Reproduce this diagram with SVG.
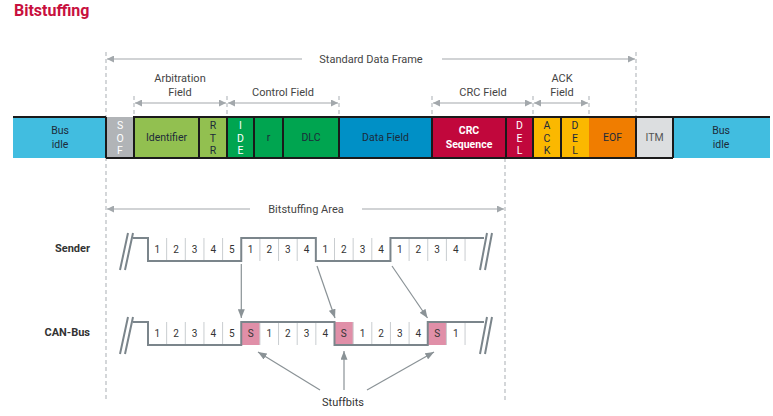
<svg xmlns="http://www.w3.org/2000/svg" width="773" height="416" viewBox="0 0 773 416">
<style>
text{font-family:Roboto,"Liberation Sans",sans-serif;}
.lbl{font-size:11px;fill:#444;text-anchor:middle;}
.bt{font-size:10.5px;text-anchor:middle;fill:#1d2b3a;}
.bw{font-size:10.5px;text-anchor:middle;fill:#fff;}
.num{font-size:10px;text-anchor:middle;fill:#333;}
.row{font-size:11px;font-weight:bold;fill:#333;text-anchor:end;}
.dash{stroke:#b8bcc0;stroke-width:1.2;stroke-dasharray:4 3;fill:none;}
.dim{stroke:#a3a8ac;stroke-width:1.2;fill:none;}
.sig{stroke:#7b858b;stroke-width:2;fill:none;}
.div{stroke:#c9cdd0;stroke-width:1;}
.con{stroke:#8a9296;stroke-width:1.2;fill:none;}
.blk{stroke:#1a1a1a;stroke-width:2;fill:none;}
.stuff{fill:#e08fa8;}
</style>
<defs>
<marker id="dh" viewBox="0 0 8 8" refX="8" refY="4" markerWidth="7" markerHeight="7" markerUnits="userSpaceOnUse" orient="auto-start-reverse"><path d="M0,0 L8,4 L0,8 Z" fill="#a3a8ac"/></marker>
<marker id="ah" viewBox="0 0 10 8" refX="10" refY="4" markerWidth="9" markerHeight="7" markerUnits="userSpaceOnUse" orient="auto"><path d="M0,0 L10,4 L0,8 Z" fill="#8a9296"/></marker>
</defs>

<text x="14" y="16" style="font-size:16px;font-weight:bold;fill:#c8103e">Bitstuffing</text>

<!-- dashed guide lines -->
<g id="guides">
<line class="dash" x1="106" y1="52" x2="106" y2="400"/>
<line class="dash" x1="636" y1="52" x2="636" y2="117"/>
<line class="dash" x1="134" y1="96" x2="134" y2="117"/>
<line class="dash" x1="227" y1="96" x2="227" y2="117"/>
<line class="dash" x1="339" y1="96" x2="339" y2="117"/>
<line class="dash" x1="432" y1="96" x2="432" y2="117"/>
<line class="dash" x1="533" y1="96" x2="533" y2="117"/>
<line class="dash" x1="589" y1="96" x2="589" y2="117"/>
<line class="dash" x1="505" y1="158" x2="505" y2="400"/>
</g>

<!-- dimension lines -->
<g id="dimensions">
<line class="dim" x1="302" y1="59" x2="107" y2="59" marker-end="url(#dh)"/>
<line class="dim" x1="442" y1="59" x2="635" y2="59" marker-end="url(#dh)"/>
<text class="lbl" x="371" y="63">Standard Data Frame</text>
<line class="dim" x1="135" y1="103" x2="226" y2="103" marker-start="url(#dh)" marker-end="url(#dh)"/>
<text class="lbl" x="180" y="82">Arbitration</text>
<text class="lbl" x="180" y="96">Field</text>
<line class="dim" x1="228" y1="103" x2="338" y2="103" marker-start="url(#dh)" marker-end="url(#dh)"/>
<text class="lbl" x="283" y="96">Control Field</text>
<line class="dim" x1="433" y1="103" x2="532" y2="103" marker-start="url(#dh)" marker-end="url(#dh)"/>
<text class="lbl" x="483" y="96">CRC Field</text>
<line class="dim" x1="534" y1="103" x2="588" y2="103" marker-start="url(#dh)" marker-end="url(#dh)"/>
<text class="lbl" x="562" y="82">ACK</text>
<text class="lbl" x="562" y="96">Field</text>
<line class="dim" x1="250" y1="209" x2="107" y2="209" marker-end="url(#dh)"/>
<line class="dim" x1="362" y1="209" x2="504" y2="209" marker-end="url(#dh)"/>
<text class="lbl" x="306" y="213">Bitstuffing Area</text>
</g>

<!-- frame fields -->
<g id="bus-idle-left"><rect x="13" y="117" width="93" height="41" fill="#41bde0"/><text class="bt" x="60" y="134">Bus</text><text class="bt" x="60" y="148">idle</text></g>
<g id="sof"><rect x="106" y="117" width="28" height="41" fill="#b1b4b7"/><text class="bw" x="120" y="129">S</text><text class="bw" x="120" y="142">O</text><text class="bw" x="120" y="154">F</text></g>
<g id="identifier"><rect x="134" y="117" width="65" height="41" fill="#92c050"/><text class="bt" x="166.5" y="141">Identifier</text></g>
<g id="rtr"><rect x="199" y="117" width="28" height="41" fill="#92c050"/><text class="bt" x="213" y="129">R</text><text class="bt" x="213" y="142">T</text><text class="bt" x="213" y="154">R</text></g>
<g id="ide"><rect x="227" y="117" width="27" height="41" fill="#00a550"/><text class="bw" x="240.5" y="129">I</text><text class="bw" x="240.5" y="142">D</text><text class="bw" x="240.5" y="154">E</text></g>
<g id="r"><rect x="254" y="117" width="29" height="41" fill="#00a550"/><text class="bt" x="268.5" y="141">r</text></g>
<g id="dlc"><rect x="283" y="117" width="56" height="41" fill="#00a550"/><text class="bt" x="311" y="141">DLC</text></g>
<g id="data-field"><rect x="339" y="117" width="93" height="41" fill="#0090c6"/><text class="bt" x="385.5" y="141">Data Field</text></g>
<g id="crc-sequence"><rect x="432" y="117" width="74" height="41" fill="#c1073c"/><text class="bw" x="469" y="134" font-weight="bold">CRC</text><text class="bw" x="469" y="148" font-weight="bold">Sequence</text></g>
<g id="crc-del"><rect x="506" y="117" width="27" height="41" fill="#c1073c"/><text class="bw" x="519.5" y="129">D</text><text class="bw" x="519.5" y="142">E</text><text class="bw" x="519.5" y="154">L</text></g>
<g id="ack"><rect x="533" y="117" width="28" height="41" fill="#fbb800"/><text class="bt" x="547" y="129">A</text><text class="bt" x="547" y="142">C</text><text class="bt" x="547" y="154">K</text></g>
<g id="ack-del"><rect x="561" y="117" width="28" height="41" fill="#fbb800"/><text class="bt" x="575" y="129">D</text><text class="bt" x="575" y="142">E</text><text class="bt" x="575" y="154">L</text></g>
<g id="eof"><rect x="589" y="117" width="47" height="41" fill="#f07d00"/><text class="bt" x="612.5" y="141">EOF</text></g>
<g id="itm"><rect x="636" y="117" width="37" height="41" fill="#dcdee0"/><text class="bt" x="654.5" y="141" style="fill:#555">ITM</text></g>
<g id="bus-idle-right"><rect x="673" y="117" width="97" height="41" fill="#41bde0"/><text class="bt" x="721" y="134">Bus</text><text class="bt" x="721" y="148">idle</text></g>

<!-- black frame lines -->
<g id="frame-lines">
<line class="blk" x1="13" y1="117" x2="106" y2="117"/>
<line class="blk" x1="134" y1="117" x2="770" y2="117"/>
<line class="blk" x1="106" y1="158" x2="673" y2="158"/>
<line class="blk" x1="106" y1="117" x2="106" y2="158"/>
<path class="blk" d="M134,116 V158 M199,116 V158 M227,116 V158 M254,116 V158 M283,116 V158 M339,116 V158 M432,116 V158 M506,116 V158 M533,116 V158 M561,116 V158 M636,116 V158 M673,116 V158"/>
</g>

<!-- Sender -->
<g id="sender">
<text class="row" x="90" y="252">Sender</text>
<path class="div" d="M166.65,238V261 M185.3,238V261 M203.95,238V261 M222.6,238V261 M259.9,238V261 M278.55,238V261 M297.2,238V261 M334.5,238V261 M353.15,238V261 M371.8,238V261 M409.1,238V261 M427.75,238V261 M446.4,238V261 M465.05,238V261"/>
<path class="sig" d="M133,238 H148 V261 H241.25 V238 H315.85 V261 H390.45 V238 H484"/>
<path class="sig" d="M120,270 L128,233 M125,270 L133,233 M480,270 L487,233 M485,270 L492,233" stroke-width="1.6"/>
<g class="num">
<text x="157.3" y="253">1</text><text x="176" y="253">2</text><text x="194.6" y="253">3</text><text x="213.3" y="253">4</text><text x="231.9" y="253">5</text>
<text x="250.6" y="253">1</text><text x="269.2" y="253">2</text><text x="287.9" y="253">3</text><text x="306.5" y="253">4</text>
<text x="325.2" y="253">1</text><text x="343.8" y="253">2</text><text x="362.5" y="253">3</text><text x="381.1" y="253">4</text>
<text x="399.8" y="253">1</text><text x="418.4" y="253">2</text><text x="437.1" y="253">3</text><text x="455.7" y="253">4</text>
</g>
</g>

<!-- CAN-Bus -->
<g id="can-bus">
<text class="row" x="90" y="336">CAN-Bus</text>
<rect class="stuff" x="241.25" y="322" width="18.65" height="23"/>
<rect class="stuff" x="334.5" y="322" width="18.65" height="23"/>
<rect class="stuff" x="427.75" y="322" width="18.65" height="23"/>
<path class="div" d="M166.65,322V345 M185.3,322V345 M203.95,322V345 M222.6,322V345 M259.9,322V345 M278.55,322V345 M297.2,322V345 M315.85,322V345 M353.15,322V345 M371.8,322V345 M390.45,322V345 M409.1,322V345 M446.4,322V345 M465.05,322V345"/>
<path class="sig" d="M133,322 H148 V345 H241.25 V322 H334.5 V345 H427.75 V322 H484"/>
<path class="sig" d="M120,354 L128,317 M125,354 L133,317 M480,354 L487,317 M485,354 L492,317" stroke-width="1.6"/>
<g class="num">
<text x="157.3" y="337">1</text><text x="176" y="337">2</text><text x="194.6" y="337">3</text><text x="213.3" y="337">4</text><text x="231.9" y="337">5</text>
<text x="250.6" y="337">S</text>
<text x="269.2" y="337">1</text><text x="287.9" y="337">2</text><text x="306.5" y="337">3</text><text x="325.2" y="337">4</text>
<text x="343.8" y="337">S</text>
<text x="362.5" y="337">1</text><text x="381.1" y="337">2</text><text x="399.8" y="337">3</text><text x="418.4" y="337">4</text>
<text x="437.1" y="337">S</text>
<text x="455.7" y="337">1</text>
</g>
</g>

<g id="stuffbits-label"><text class="lbl" x="343" y="406" style="fill:#333">Stuffbits</text></g>

<!-- connectors -->
<g id="connectors">
<line class="con" x1="241.3" y1="264" x2="241.3" y2="318" marker-end="url(#ah)"/>
<line class="con" x1="317" y1="266" x2="335" y2="318" marker-end="url(#ah)"/>
<line class="con" x1="392" y1="266" x2="427.5" y2="318" marker-end="url(#ah)"/>
<line class="con" x1="320" y1="390" x2="258" y2="352" marker-end="url(#ah)"/>
<line class="con" x1="344" y1="390" x2="344" y2="351" marker-end="url(#ah)"/>
<line class="con" x1="367" y1="390" x2="434" y2="352" marker-end="url(#ah)"/>
</g>
</svg>
